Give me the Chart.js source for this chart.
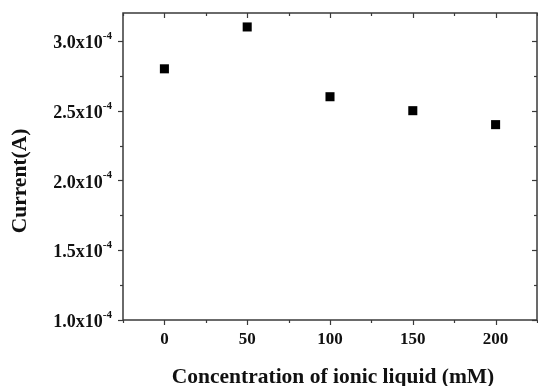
<!DOCTYPE html>
<html>
<head>
<meta charset="utf-8">
<script src="https://cdn.jsdelivr.net/npm/chart.js@4/dist/chart.umd.min.js"></script>
<style>
  html, body { margin: 0; padding: 0; background: #fff; }
  #wrap { width: 538px; height: 386px; }
</style>
</head>
<body>
<div id="wrap"><canvas id="c" width="538" height="386"></canvas></div>
<script>
// Ionic liquid concentration (mM) vs measured current (A)
const concentrations = [0, 50, 100, 150, 200];
const currents = [2.8e-4, 3.1e-4, 2.6e-4, 2.5e-4, 2.4e-4];

const xMajorTicks = [0, 50, 100, 150, 200];
const xMinorTicks = [-25, 25, 75, 125, 175, 225];
const yMajorTicks = [1.0e-4, 1.5e-4, 2.0e-4, 2.5e-4, 3.0e-4];
const yMinorTicks = [1.25e-4, 1.75e-4, 2.25e-4, 2.75e-4];
const yTickMantissas = ['1.0x10', '1.5x10', '2.0x10', '2.5x10', '3.0x10'];
const yTickExponent = '-4';

const xTitle = 'Concentration of ionic liquid (mM)';
const yTitle = 'Current(A)';

const FONT = '"Liberation Serif", "Times New Roman", serif';
const FRAME = '#3a3a3a';

// Frame, ticks on all four sides, tick labels with exponents, and axis titles
const framePlugin = {
  id: 'frame',
  afterDraw(chart) {
    const ctx = chart.ctx;
    const a = chart.chartArea;
    const xs = chart.scales.x, ys = chart.scales.y;
    ctx.save();
    ctx.strokeStyle = FRAME;
    ctx.lineWidth = 1.5;
    ctx.strokeRect(a.left, a.top, a.right - a.left, a.bottom - a.top);

    ctx.lineWidth = 1.2;
    const line = (x1, y1, x2, y2) => { ctx.beginPath(); ctx.moveTo(x1, y1); ctx.lineTo(x2, y2); ctx.stroke(); };
    xMajorTicks.forEach(v => {
      const p = Math.round(xs.getPixelForValue(v)) + 0.5;
      line(p, a.bottom, p, a.bottom + 5);
      line(p, a.top, p, a.top + 5);
    });
    xMinorTicks.forEach(v => {
      const p = Math.round(xs.getPixelForValue(v)) + 0.5;
      line(p, a.bottom, p, a.bottom + 3);
      line(p, a.top, p, a.top + 3);
    });
    yMajorTicks.forEach(v => {
      const p = Math.round(ys.getPixelForValue(v)) + 0.5;
      line(a.left - 5, p, a.left, p);
      line(a.right - 5, p, a.right, p);
    });
    yMinorTicks.forEach(v => {
      const p = Math.round(ys.getPixelForValue(v)) + 0.5;
      line(a.left - 3, p, a.left, p);
      line(a.right - 3, p, a.right, p);
    });

    ctx.fillStyle = '#111';
    // x tick labels
    ctx.font = 'bold 17px ' + FONT;
    ctx.textAlign = 'center';
    ctx.textBaseline = 'middle';
    xMajorTicks.forEach(v => {
      ctx.fillText(String(v), xs.getPixelForValue(v), 340);
    });

    // y tick labels with superscript exponent
    yMajorTicks.forEach((v, i) => {
      const p = ys.getPixelForValue(v);
      ctx.font = 'bold 11px ' + FONT;
      ctx.textAlign = 'right';
      ctx.textBaseline = 'middle';
      const supRight = a.left - 11;
      ctx.fillText(yTickExponent, supRight, p - 5);
      const supW = ctx.measureText(yTickExponent).width;
      ctx.font = 'bold 18px ' + FONT;
      ctx.fillText(yTickMantissas[i], supRight - supW, p + 2.5);
    });

    // axis titles
    ctx.font = 'bold 21.5px ' + FONT;
    ctx.textAlign = 'center';
    ctx.textBaseline = 'middle';
    ctx.fillText(xTitle, 333, 377);
    ctx.translate(20.5, 181);
    ctx.rotate(-Math.PI / 2);
    ctx.fillText(yTitle, 0, 0);
    ctx.restore();
  }
};

new Chart(document.getElementById('c'), {
  type: 'scatter',
  data: {
    datasets: [{
      data: concentrations.map((x, i) => ({ x: x, y: currents[i] })),
      pointStyle: 'rect',
      pointRadius: 6.4,
      pointHoverRadius: 6.4,
      backgroundColor: '#000',
      borderColor: '#000',
      borderWidth: 0
    }]
  },
  options: {
    responsive: false,
    animation: false,
    events: [],
    layout: { autoPadding: false, padding: { top: 13, right: 1, left: 0, bottom: 0 } },
    plugins: { legend: { display: false }, tooltip: { enabled: false } },
    scales: {
      x: {
        type: 'linear',
        min: -25,
        max: 225,
        grid: { display: false },
        border: { display: false },
        ticks: { display: false },
        afterFit(scale) { scale.height = 66; }
      },
      y: {
        type: 'linear',
        min: 1.0e-4,
        max: 3.2e-4,
        grid: { display: false },
        border: { display: false },
        ticks: { display: false },
        afterFit(scale) { scale.width = 123; }
      }
    }
  },
  plugins: [framePlugin]
});
</script>
</body>
</html>
